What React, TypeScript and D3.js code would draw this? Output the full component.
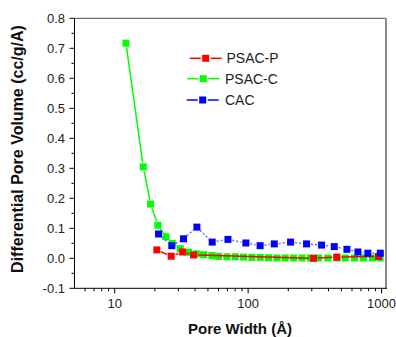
import React from "react";
import * as d3 from "d3";

const W = 396;
const H = 337;

// PSAC-C (green)
const psacCX = [12.15, 16.38, 18.57, 21.1, 24.23, 27.01, 31.0, 35.78, 40.86, 46.34, 53.56, 60.0, 69.38, 80.07, 92.38, 106.8, 123.2, 142.2, 164.3, 189.6, 218.9, 252.9, 291.9, 336.8, 396.1, 462.8, 533.9, 626.6, 731.6, 854.6, 975.9];
const psacCY = [0.717, 0.305, 0.181, 0.11, 0.072, 0.05, 0.032, 0.02, 0.015, 0.012, 0.009, 0.006, 0.005, 0.005, 0.004, 0.003, 0.003, 0.002, 0.001, 0.001, 0.001, 0.001, 0.001, 0.001, 0.001, 0.001, 0.001, 0.001, 0.001, 0.001, 0.001];

// PSAC-P (red)
const psacPX = [20.7, 26.5, 32.3, 39.0, 309, 462, 948];
const psacPY = [0.028, 0.007, 0.021, 0.011, 0.0, 0.004, 0.006];

// CAC (blue)
const cacX = [21.3, 26.8, 32.8, 41.3, 53.8, 70.6, 96.2, 123, 157, 208, 274, 355, 442, 550, 665, 789, 978];
const cacY = [0.081, 0.042, 0.065, 0.104, 0.054, 0.063, 0.051, 0.042, 0.048, 0.054, 0.048, 0.044, 0.039, 0.03, 0.021, 0.017, 0.017];

const yTicks = [-0.1, 0.0, 0.1, 0.2, 0.3, 0.4, 0.5, 0.6, 0.7, 0.8];
const xTicks = [10, 100, 1000];
const seriesNames = ["PSAC-P", "PSAC-C", "CAC"];

const left = 74.5;
const right = 385.5;
const top = 18.3;
const bottom = 288.3;

const x = d3.scaleLog().domain([5, 1070]).range([left, right]);
const y = d3.scaleLinear().domain([-0.1, 0.8]).range([bottom, top]);

const FONT = "'Liberation Sans', Arial, sans-serif";

function gappedSegments(xs: number[], ys: number[], gap: number) {
  const segs: [number, number, number, number][] = [];
  for (let i = 0; i < xs.length - 1; i++) {
    const x1 = x(xs[i]), y1 = y(ys[i]), x2 = x(xs[i + 1]), y2 = y(ys[i + 1]);
    const dx = x2 - x1, dy = y2 - y1;
    const len = Math.hypot(dx, dy);
    if (len <= gap * 2 + 0.5) continue;
    const ux = dx / len, uy = dy / len;
    segs.push([x1 + ux * gap, y1 + uy * gap, x2 - ux * gap, y2 - uy * gap]);
  }
  return segs;
}

function Series({ xs, ys, color, lineColor, dash }: { xs: number[]; ys: number[]; color: string; lineColor: string; dash?: string }) {
  const segs = gappedSegments(xs, ys, 4.5);
  const s = 7;
  return (
    <g>
      {segs.map((sg, i) => (
        <line key={i} x1={sg[0]} y1={sg[1]} x2={sg[2]} y2={sg[3]} stroke={lineColor} strokeWidth={1.5} strokeDasharray={dash} />
      ))}
      {xs.map((v, i) => (
        <rect key={"m" + i} x={x(v) - s / 2} y={y(ys[i]) - s / 2} width={s} height={s} fill={color} />
      ))}
    </g>
  );
}

export default function App() {
  const minorX: number[] = [];
  for (const dec of [1, 10, 100]) {
    for (let k = 2; k <= 9; k++) {
      const v = dec * k;
      if (v > 5 && v < 1070 && v !== 10 && v !== 100 && v !== 1000) minorX.push(v);
    }
  }
  const minorY = yTicks.slice(0, -1).map((t) => t + 0.05);
  const legendColors = ["#ff0000", "#00ff00", "#0000ff"];
  const legendLine = ["#ff0000", "#00ff00", "#0000ff"];
  const legendY = [58.3, 78.7, 100];
  const legendMarkerX = [205.7, 203.3, 202.7];
  const legendTextX = [226.5, 225, 225];

  return (
    <svg width={W} height={H} style={{ position: "absolute", left: 0, top: 0, background: "#fff" }} fontFamily={FONT}>
      <rect x={0} y={0} width={W} height={H} fill="#fff" />
      {/* frame top/right */}
      <line x1={left} y1={top} x2={right} y2={top} stroke="#707070" strokeWidth={1.2} />
      <line x1={right + 0.5} y1={top} x2={right + 0.5} y2={bottom} stroke="#8a8a8a" strokeWidth={2} />

      <Series xs={psacCX} ys={psacCY} color="#00ff00" lineColor="#00ff00" />
      <Series xs={psacPX} ys={psacPY} color="#ff0000" lineColor="#ff0000" />
      <Series xs={cacX} ys={cacY} color="#0000ff" lineColor="#7070ff" dash="2,2" />

      {/* axes */}
      <line x1={left} y1={top} x2={left} y2={bottom} stroke="#000" strokeWidth={1} />
      <line x1={left} y1={bottom} x2={right + 1.5} y2={bottom} stroke="#000" strokeWidth={1} />
      {yTicks.map((t) => (
        <g key={"yt" + t}>
          <line x1={left - 5} x2={left} y1={y(t)} y2={y(t)} stroke="#000" />
          <text x={65} y={y(t)} dy="0.35em" textAnchor="end" fontSize={13} fill="#222">
            {d3.format(".1f")(t).replace("−", "-")}
          </text>
        </g>
      ))}
      {minorY.map((t) => (
        <line key={"ym" + t} x1={left - 3} x2={left} y1={y(t)} y2={y(t)} stroke="#000" />
      ))}
      {xTicks.map((t) => (
        <g key={"xt" + t}>
          <line x1={x(t)} x2={x(t)} y1={bottom} y2={bottom + 5} stroke="#000" />
          <text x={x(t)} y={308} textAnchor="middle" fontSize={13} fill="#222">
            {t}
          </text>
        </g>
      ))}
      {minorX.map((t) => (
        <line key={"xm" + t} x1={x(t)} x2={x(t)} y1={bottom} y2={bottom + 3} stroke="#000" />
      ))}

      {/* axis titles */}
      <text x={0} y={0} transform={`translate(23,${149}) rotate(-90)`} textAnchor="middle" fontSize={16} fontWeight="bold" fill="#111">
        Differential Pore Volume (cc/g/A)
      </text>
      <text x={(left + right) / 2 + 10} y={334} textAnchor="middle" fontSize={15} fontWeight="bold" fill="#111">
        Pore Width (Å)
      </text>

      {/* legend */}
      {seriesNames.map((n, i) => (
        <g key={n}>
          <line x1={legendMarkerX[i] - 16} x2={legendMarkerX[i] - 5} y1={legendY[i]} y2={legendY[i]} stroke={legendLine[i]} strokeWidth={1.5} />
          <line x1={legendMarkerX[i] + 5} x2={legendMarkerX[i] + 16} y1={legendY[i]} y2={legendY[i]} stroke={legendLine[i]} strokeWidth={1.5} />
          <rect x={legendMarkerX[i] - 3.5} y={legendY[i] - 3.5} width={7} height={7} fill={legendColors[i]} />
          <text x={legendTextX[i]} y={legendY[i]} dy="0.35em" fontSize={14} fill="#222">
            {n}
          </text>
        </g>
      ))}
    </svg>
  );
}
